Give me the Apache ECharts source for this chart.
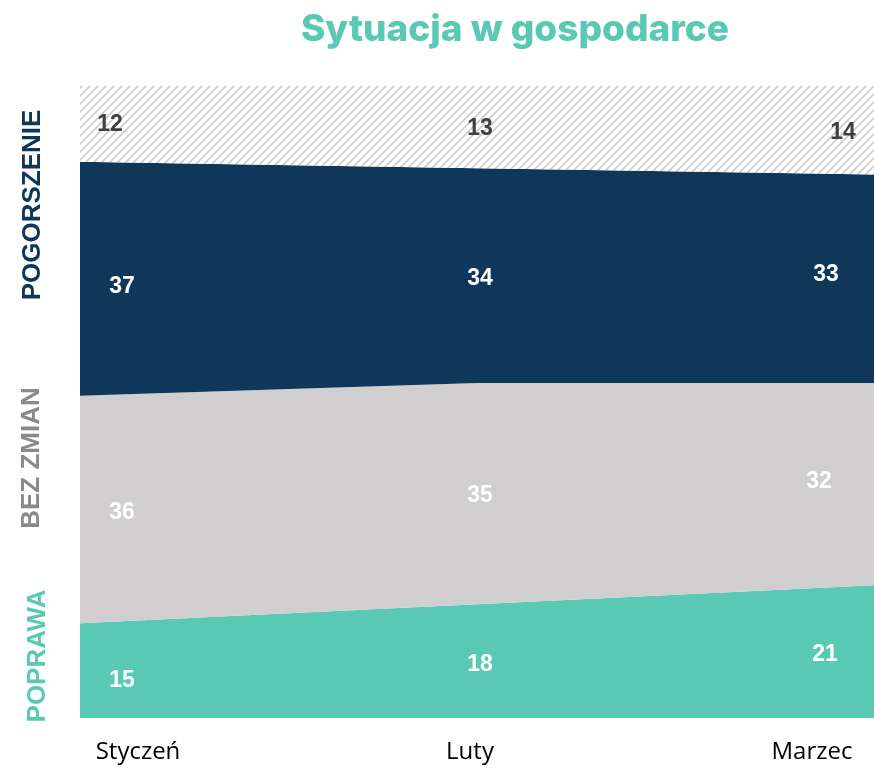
<!DOCTYPE html>
<html>
<head>
<meta charset="utf-8">
<script src="https://cdn.jsdelivr.net/npm/echarts@6/dist/echarts.min.js"></script>
<style>
  html, body { margin: 0; padding: 0; background: #fff; }
  #chart { width: 874px; height: 769px; }
</style>
</head>
<body>
<div id="chart"></div>
<script>
const months = ["Styczeń", "Luty", "Marzec"];
const poprawa = [15, 18, 21];
const bezZmian = [36, 35, 32];
const pogorszenie = [37, 34, 33];
const trudnoPowiedziec = [12, 13, 14];

const teal = "#5ac9b4";
const grey = "#d0cecf";
const navy = "#0f3759";

// hatch pattern for the top band
function hatch() {
  const n = 8;
  const c = document.createElement("canvas");
  c.width = n; c.height = n;
  const ctx = c.getContext("2d");
  ctx.fillStyle = "#fff";
  ctx.fillRect(0, 0, n, n);
  ctx.strokeStyle = "#cbcbcb";
  ctx.lineWidth = 1.6;
  ctx.beginPath();
  ctx.moveTo(-1, n + 1); ctx.lineTo(n + 1, -1);
  ctx.moveTo(-2, 2); ctx.lineTo(2, -2);
  ctx.moveTo(n - 2, n + 2); ctx.lineTo(n + 2, n - 2);
  ctx.stroke();
  return c;
}

const bands = [
  { name: "Poprawa", data: poprawa, color: teal, label: "#fff" },
  { name: "Bez zmian", data: bezZmian, color: grey, label: "#fff" },
  { name: "Pogorszenie", data: pogorszenie, color: navy, label: "#fff" },
  { name: "Trudno powiedzieć", data: trudnoPowiedziec, color: { image: hatch(), repeat: "repeat" }, label: "#404040" }
];

// label shifts [dx, dy] per band, per column (px)
const shift = [
  [[42, 10], [3, 4], [-49, 3]],
  [[42, 3], [3, 2], [-55, -3]],
  [[42, 8], [3, 3], [-48, -4]],
  [[30, 1], [3, 2], [-31, 2]]
];

const series = [];
const below = [0, 0, 0];
bands.forEach((b, k) => {
  series.push({
    name: b.name,
    type: "line",
    stack: "all",
    symbol: "none",
    lineStyle: { width: 0 },
    areaStyle: { color: b.color, opacity: 1 },
    data: b.data,
    z: 2
  });
  const mids = b.data.map((v, i) => {
    const m = below[i] + v / 2;
    below[i] += v;
    return {
      value: [i, m],
      label: { offset: shift[k][i] }
    };
  });
  series.push({
    type: "scatter",
    symbolSize: 0,
    silent: true,
    z: 5,
    itemStyle: { opacity: 1 },
    data: mids,
    label: {
      show: true,
      position: "inside",
      color: b.label,
      fontFamily: "Liberation Sans, Arial",
      fontWeight: "bold",
      fontSize: 23,
      formatter: p => b.data[p.dataIndex]
    }
  });
});

const chart = echarts.init(document.getElementById("chart"));
chart.setOption({
  animation: false,
  title: {
    text: "Sytuacja w gospodarce",
    left: 510,
    top: 6,
    textAlign: "center",
    textStyle: { color: teal, fontFamily: "Inter", fontWeight: 800, fontSize: 37 }
  },
  grid: { left: 80, right: 0, top: 86, bottom: 51 },
  xAxis: {
    type: "category",
    boundaryGap: false,
    data: months,
    axisLine: { show: false },
    axisTick: { show: false },
    splitLine: { show: false },
    axisLabel: {
      interval: 0,
      margin: 22,
      color: "#000",
      fontFamily: "Open Sans",
      fontSize: 24,
      formatter: (v, i) => "{m" + i + "|" + v + "}",
      rich: {
        m0: { padding: [0, 0, 0, 116], fontFamily: "Open Sans", fontSize: 24, color: "#000" },
        m1: { padding: [0, 14, 0, 0], fontFamily: "Open Sans", fontSize: 24, color: "#000" },
        m2: { padding: [0, 124, 0, 0], fontFamily: "Open Sans", fontSize: 24, color: "#000" }
      }
    }
  },
  yAxis: {
    type: "value",
    min: 0,
    max: 100,
    show: false,
    splitLine: { show: false }
  },
  graphic: [
    { type: "text", x: 33, y: 205, rotation: Math.PI / 2,
      style: { text: "POGORSZENIE", fill: navy, font: "bold 26px Liberation Sans", textAlign: "center", textVerticalAlign: "middle" } },
    { type: "text", x: 32, y: 458, rotation: Math.PI / 2,
      style: { text: "BEZ ZMIAN", fill: "#8a8a8a", font: "bold 26px Liberation Sans", textAlign: "center", textVerticalAlign: "middle" } },
    { type: "text", x: 38, y: 656, rotation: Math.PI / 2,
      style: { text: "POPRAWA", fill: teal, font: "bold 26px Liberation Sans", textAlign: "center", textVerticalAlign: "middle" } }
  ],
  series: series
});
</script>
</body>
</html>
